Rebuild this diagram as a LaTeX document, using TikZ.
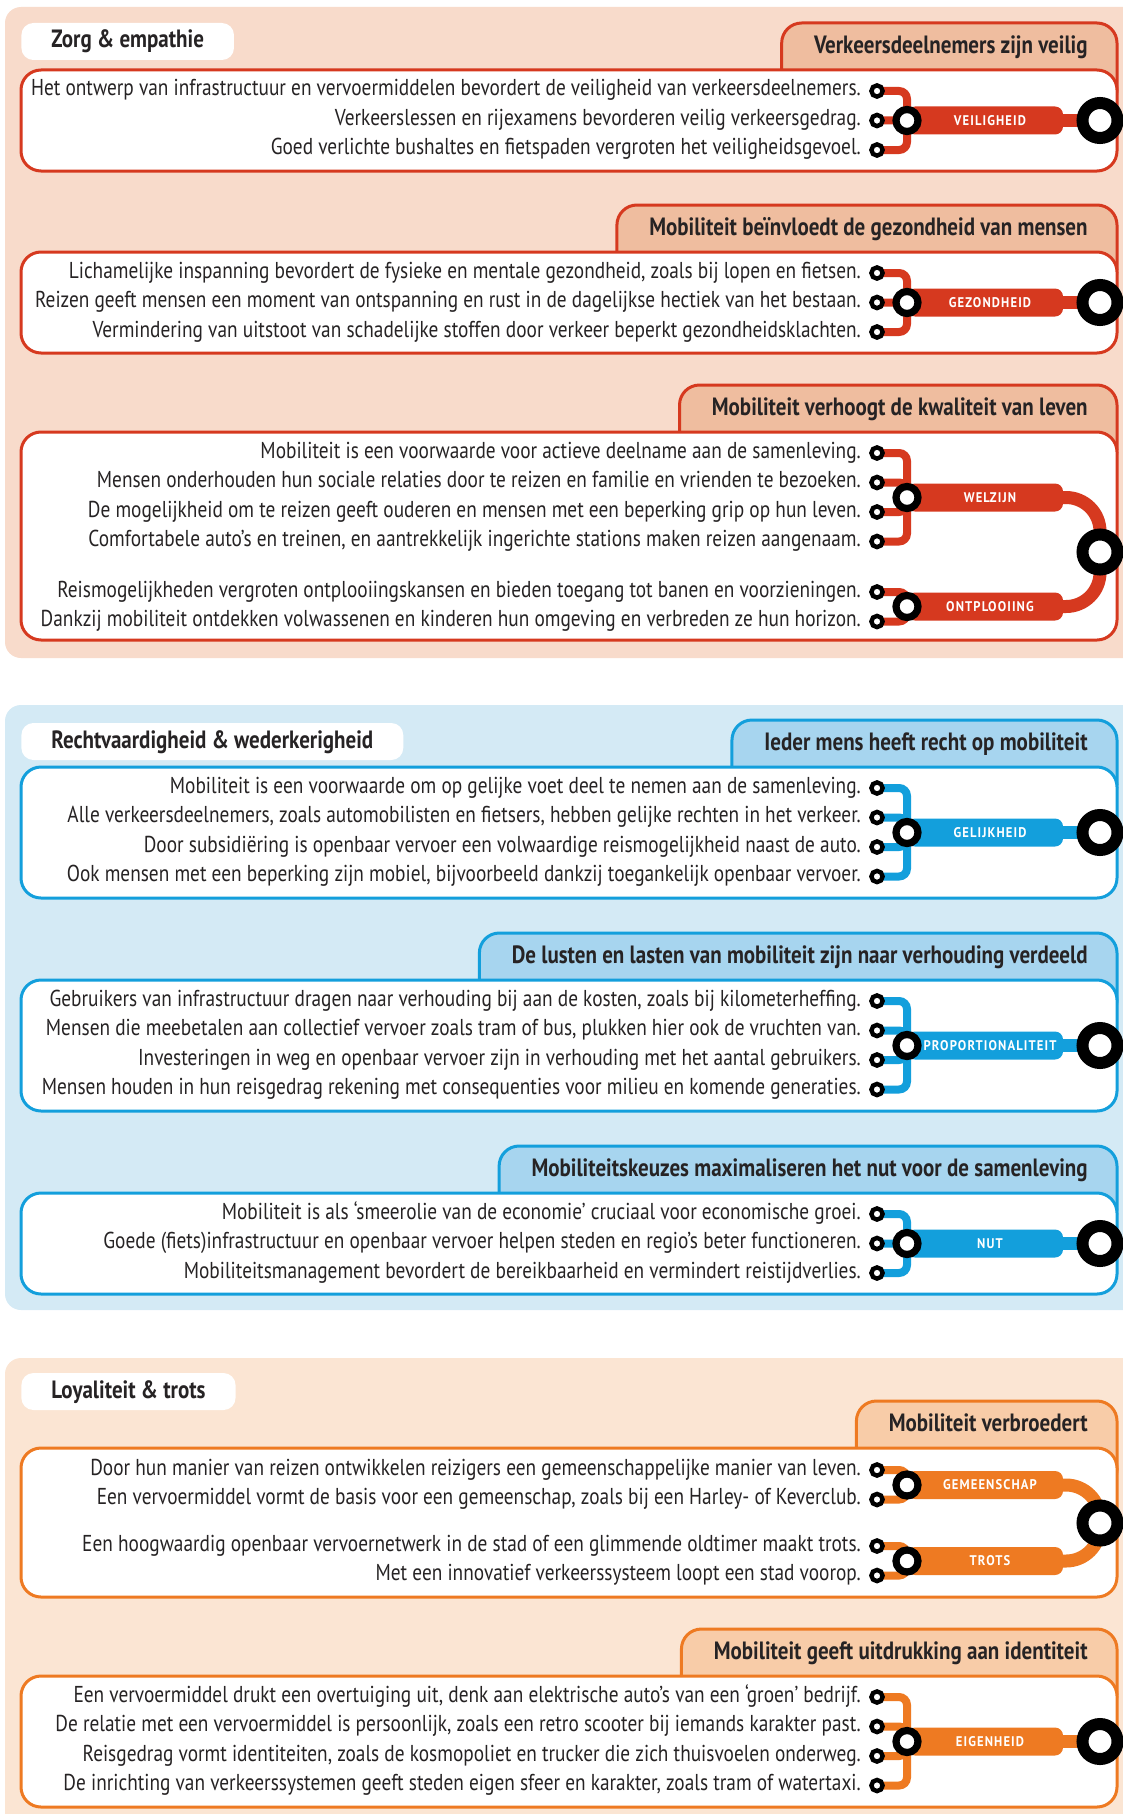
\documentclass[tikz,border=0pt]{standalone}
\usepackage{fontspec}
\setmainfont{PT Sans}[FakeStretch=0.84]
\newfontfamily\barfont{PT Sans}[FakeStretch=0.9,LetterSpace=8]
\usetikzlibrary{positioning}
\pgfdeclarelayer{bg}
\pgfdeclarelayer{lines}
\pgfsetlayers{bg,lines,main}

\definecolor{zorgbg}{HTML}{F8DBCB}
\definecolor{zorgtab}{HTML}{EFBD9F}
\definecolor{zorgline}{HTML}{D6391F}
\definecolor{rechtbg}{HTML}{D4EAF5}
\definecolor{rechttab}{HTML}{A7D5EF}
\definecolor{rechtline}{HTML}{139FDC}
\definecolor{loyaalbg}{HTML}{FBE5D3}
\definecolor{loyaaltab}{HTML}{F8CCA8}
\definecolor{loyaalline}{HTML}{EE7A22}
\definecolor{inkt}{HTML}{262324}

\begin{document}
\begin{tikzpicture}[
    x=0.5pt, y=-0.5pt,
    every node/.style={text=inkt},
    panel/.style={fill=#1, rounded corners=8pt},
    pill/.style={fill=white, rounded corners=6pt, anchor=west, minimum height=18.5pt, inner xsep=15pt, text height=9pt, text depth=2.5pt, font=\fontsize{12.5}{14}\selectfont\bfseries},
    heading/.style={anchor=east, inner sep=0pt, text height=9pt, text depth=2.5pt, font=\fontsize{12.5}{14}\selectfont\bfseries},
    tabbox/.style={draw=ln, fill=tb, line width=1.5pt, rounded corners=10pt},
    whitebox/.style={draw=ln, fill=white, line width=1.5pt, rounded corners=10pt},
    stmt/.style={inner sep=0pt, text height=8pt, text depth=3pt, font=\fontsize{11.5}{13}\selectfont},
    stopnode/.style={circle, draw=black, fill=white, line width=2.2pt, minimum size=5.6pt, inner sep=0pt},
    hub/.style={circle, draw=black, fill=white, line width=3.6pt, minimum size=11pt, inner sep=0pt},
    terminus/.style={circle, draw=black, fill=white, line width=6pt, minimum size=17.5pt, inner sep=0pt},
    linebar/.style={fill=ln, rounded corners=4pt, minimum width=78pt, minimum height=14pt, inner sep=0pt, text=white, font=\barfont\fontsize{7}{8}\selectfont\bfseries, execute at begin node={\hskip5pt\relax}},
    feeder/.style={draw=ln, line width=4pt, rounded corners=4pt},
    trunk/.style={draw=ln, line width=6.5pt, rounded corners=17pt}
    ]
\useasboundingbox (0,0) rectangle (1123,1814);
\clip (0,0) rectangle (1123,1814);

% ---------- Zorg & empathie ----------
\colorlet{ln}{zorgline}\colorlet{tb}{zorgtab}
\begin{pgfonlayer}{bg}
\fill[panel=zorgbg] (5,7) rectangle (1160,658);
\end{pgfonlayer}
\node[pill] (zorg) at (21,41.5) {Zorg \& empathie};

% veiligheid
\node[heading] (veilig) at (1088,47) {Verkeersdeelnemers zijn veilig};
\begin{pgfonlayer}{bg}
\draw[tabbox] ([xshift=-16pt,yshift=12pt]veilig.west) rectangle (1117,110);
\draw[whitebox] (21,70) rectangle (1117,171);
\end{pgfonlayer}
\node[linebar] (veiligheid) at (985,120.5) {VEILIGHEID};
\node[hub] (veiligj) at (907,120.5) {};
\node[terminus] (veilige) at (1100,120.5) {};
\begin{pgfonlayer}{lines}
\draw[trunk] (veiligheid.center) -- (veilige.center);
\end{pgfonlayer}
\foreach \txt [count=\i] in {
    {Het ontwerp van infrastructuur en vervoermiddelen bevordert de veiligheid van verkeersdeelnemers.},
    {Verkeerslessen en rijexamens bevorderen veilig verkeersgedrag.},
    {Goed verlichte bushaltes en fietspaden vergroten het veiligheidsgevoel.}} {
  \node[stopnode] (veilig\i) at (877,61.5+29.5*\i) {};
  \node[stmt, left=4pt of veilig\i] (veiligtxt\i) {\txt};
  \begin{pgfonlayer}{lines}
  \draw[feeder] (veilig\i.center) -| (veiligj.center);
  \end{pgfonlayer}
}

% gezondheid
\node[heading] (gezond) at (1088,229) {Mobiliteit beïnvloedt de gezondheid van mensen};
\begin{pgfonlayer}{bg}
\draw[tabbox] ([xshift=-16pt,yshift=12pt]gezond.west) rectangle (1117,290);
\draw[whitebox] (21,252) rectangle (1117,353);
\end{pgfonlayer}
\node[linebar] (gezondheid) at (985,302.5) {GEZONDHEID};
\node[hub] (gezondj) at (907,302.5) {};
\node[terminus] (gezonde) at (1100,302.5) {};
\begin{pgfonlayer}{lines}
\draw[trunk] (gezondheid.center) -- (gezonde.center);
\end{pgfonlayer}
\foreach \txt [count=\i] in {
    {Lichamelijke inspanning bevordert de fysieke en mentale gezondheid, zoals bij lopen en fietsen.},
    {Reizen geeft mensen een moment van ontspanning en rust in de dagelijkse hectiek van het bestaan.},
    {Vermindering van uitstoot van schadelijke stoffen door verkeer beperkt gezondheidsklachten.}} {
  \node[stopnode] (gezond\i) at (877,243.5+29.5*\i) {};
  \node[stmt, left=4pt of gezond\i] (gezondtxt\i) {\txt};
  \begin{pgfonlayer}{lines}
  \draw[feeder] (gezond\i.center) -| (gezondj.center);
  \end{pgfonlayer}
}

% welzijn en ontplooiing
\node[heading] (leven) at (1088,409) {Mobiliteit verhoogt de kwaliteit van leven};
\begin{pgfonlayer}{bg}
\draw[tabbox] ([xshift=-16pt,yshift=12pt]leven.west) rectangle (1117,470);
\draw[whitebox] (21,432) rectangle (1117,640);
\end{pgfonlayer}
\node[linebar] (welzijn) at (985,497.5) {WELZIJN};
\node[linebar] (ontplooiing) at (985,606.5) {ONTPLOOIING};
\node[hub] (welzijnj) at (907,497.5) {};
\node[hub] (ontplooiingj) at (907,606.5) {};
\node[terminus] (levene) at (1100,552) {};
\begin{pgfonlayer}{lines}
\draw[trunk] (welzijn.center) -| (levene.center);
\draw[trunk] (ontplooiing.center) -| (levene.center);
\end{pgfonlayer}
\foreach \txt [count=\i] in {
    {Mobiliteit is een voorwaarde voor actieve deelname aan de samenleving.},
    {Mensen onderhouden hun sociale relaties door te reizen en familie en vrienden te bezoeken.},
    {De mogelijkheid om te reizen geeft ouderen en mensen met een beperking grip op hun leven.},
    {Comfortabele auto’s en treinen, en aantrekkelijk ingerichte stations maken reizen aangenaam.}} {
  \node[stopnode] (welzijn\i) at (877,423.5+29.5*\i) {};
  \node[stmt, left=4pt of welzijn\i] (welzijntxt\i) {\txt};
  \begin{pgfonlayer}{lines}
  \draw[feeder] (welzijn\i.center) -| (welzijnj.center);
  \end{pgfonlayer}
}
\foreach \txt [count=\i] in {
    {Reismogelijkheden vergroten ontplooiingskansen en bieden toegang tot banen en voorzieningen.},
    {Dankzij mobiliteit ontdekken volwassenen en kinderen hun omgeving en verbreden ze hun horizon.}} {
  \node[stopnode] (ontplooiing\i) at (877,562.5+29.5*\i) {};
  \node[stmt, left=4pt of ontplooiing\i] (ontplooiingtxt\i) {\txt};
  \begin{pgfonlayer}{lines}
  \draw[feeder] (ontplooiing\i.center) -| (ontplooiingj.center);
  \end{pgfonlayer}
}

% ---------- Rechtvaardigheid & wederkerigheid ----------
\colorlet{ln}{rechtline}\colorlet{tb}{rechttab}
\begin{pgfonlayer}{bg}
\fill[panel=rechtbg] (5,705) rectangle (1160,1310);
\end{pgfonlayer}
\node[pill] (recht) at (21,741.5) {Rechtvaardigheid \& wederkerigheid};

% gelijkheid
\node[heading] (ieder) at (1088,744) {Ieder mens heeft recht op mobiliteit};
\begin{pgfonlayer}{bg}
\draw[tabbox] ([xshift=-16pt,yshift=12pt]ieder.west) rectangle (1117,805);
\draw[whitebox] (21,767) rectangle (1117,898);
\end{pgfonlayer}
\node[linebar] (gelijkheid) at (985,832.5) {GELIJKHEID};
\node[hub] (gelijkj) at (907,832.5) {};
\node[terminus] (gelijke) at (1100,832.5) {};
\begin{pgfonlayer}{lines}
\draw[trunk] (gelijkheid.center) -- (gelijke.center);
\end{pgfonlayer}
\foreach \txt [count=\i] in {
    {Mobiliteit is een voorwaarde om op gelijke voet deel te nemen aan de samenleving.},
    {Alle verkeersdeelnemers, zoals automobilisten en fietsers, hebben gelijke rechten in het verkeer.},
    {Door subsidiëring is openbaar vervoer een volwaardige reismogelijkheid naast de auto.},
    {Ook mensen met een beperking zijn mobiel, bijvoorbeeld dankzij toegankelijk openbaar vervoer.}} {
  \node[stopnode] (gelijk\i) at (877,758.5+29.5*\i) {};
  \node[stmt, left=4pt of gelijk\i] (gelijktxt\i) {\txt};
  \begin{pgfonlayer}{lines}
  \draw[feeder] (gelijk\i.center) -| (gelijkj.center);
  \end{pgfonlayer}
}

% proportionaliteit
\node[heading] (lusten) at (1088,957) {De lusten en lasten van mobiliteit zijn naar verhouding verdeeld};
\begin{pgfonlayer}{bg}
\draw[tabbox] ([xshift=-16pt,yshift=12pt]lusten.west) rectangle (1117,1020);
\draw[whitebox] (21,980) rectangle (1117,1111);
\end{pgfonlayer}
\node[linebar] (proportionaliteit) at (985,1045.5) {PROPORTIONALITEIT};
\node[hub] (proportj) at (907,1045.5) {};
\node[terminus] (proporte) at (1100,1045.5) {};
\begin{pgfonlayer}{lines}
\draw[trunk] (proportionaliteit.center) -- (proporte.center);
\end{pgfonlayer}
\foreach \txt [count=\i] in {
    {Gebruikers van infrastructuur dragen naar verhouding bij aan de kosten, zoals bij kilometerheffing.},
    {Mensen die meebetalen aan collectief vervoer zoals tram of bus, plukken hier ook de vruchten van.},
    {Investeringen in weg en openbaar vervoer zijn in verhouding met het aantal gebruikers.},
    {Mensen houden in hun reisgedrag rekening met consequenties voor milieu en komende generaties.}} {
  \node[stopnode] (proport\i) at (877,971.5+29.5*\i) {};
  \node[stmt, left=4pt of proport\i] (proporttxt\i) {\txt};
  \begin{pgfonlayer}{lines}
  \draw[feeder] (proport\i.center) -| (proportj.center);
  \end{pgfonlayer}
}

% nut
\node[heading] (keuzes) at (1088,1170) {Mobiliteitskeuzes maximaliseren het nut voor de samenleving};
\begin{pgfonlayer}{bg}
\draw[tabbox] ([xshift=-16pt,yshift=12pt]keuzes.west) rectangle (1117,1230);
\draw[whitebox] (21,1193) rectangle (1117,1294);
\end{pgfonlayer}
\node[linebar] (nut) at (985,1243.5) {NUT};
\node[hub] (nutj) at (907,1243.5) {};
\node[terminus] (nute) at (1100,1243.5) {};
\begin{pgfonlayer}{lines}
\draw[trunk] (nut.center) -- (nute.center);
\end{pgfonlayer}
\foreach \txt [count=\i] in {
    {Mobiliteit is als ‘smeerolie van de economie’ cruciaal voor economische groei.},
    {Goede (fiets)infrastructuur en openbaar vervoer helpen steden en regio’s beter functioneren.},
    {Mobiliteitsmanagement bevordert de bereikbaarheid en vermindert reistijdverlies.}} {
  \node[stopnode] (nut\i) at (877,1184.5+29.5*\i) {};
  \node[stmt, left=4pt of nut\i] (nuttxt\i) {\txt};
  \begin{pgfonlayer}{lines}
  \draw[feeder] (nut\i.center) -| (nutj.center);
  \end{pgfonlayer}
}

% ---------- Loyaliteit & trots ----------
\colorlet{ln}{loyaalline}\colorlet{tb}{loyaaltab}
\begin{pgfonlayer}{bg}
\fill[panel=loyaalbg] (5,1358) rectangle (1160,1860);
\end{pgfonlayer}
\node[pill] (loyaal) at (21,1391.5) {Loyaliteit \& trots};

% gemeenschap en trots
\node[heading] (broeder) at (1088,1425) {Mobiliteit verbroedert};
\begin{pgfonlayer}{bg}
\draw[tabbox] ([xshift=-16pt,yshift=12pt]broeder.west) rectangle (1117,1490);
\draw[whitebox] (21,1448) rectangle (1117,1597);
\end{pgfonlayer}
\node[linebar] (gemeenschap) at (985,1485) {GEMEENSCHAP};
\node[linebar] (trots) at (985,1561) {TROTS};
\node[hub] (gemeenschapj) at (907,1485) {};
\node[hub] (trotsj) at (907,1561) {};
\node[terminus] (broedere) at (1100,1523) {};
\begin{pgfonlayer}{lines}
\draw[trunk] (gemeenschap.center) -| (broedere.center);
\draw[trunk] (trots.center) -| (broedere.center);
\end{pgfonlayer}
\foreach \txt [count=\i] in {
    {Door hun manier van reizen ontwikkelen reizigers een gemeenschappelijke manier van leven.},
    {Een vervoermiddel vormt de basis voor een gemeenschap, zoals bij een Harley- of Keverclub.}} {
  \node[stopnode] (gemeenschap\i) at (877,1440.5+29.5*\i) {};
  \node[stmt, left=4pt of gemeenschap\i] (gemeenschaptxt\i) {\txt};
  \begin{pgfonlayer}{lines}
  \draw[feeder] (gemeenschap\i.center) -| (gemeenschapj.center);
  \end{pgfonlayer}
}
\foreach \txt [count=\i] in {
    {Een hoogwaardig openbaar vervoernetwerk in de stad of een glimmende oldtimer maakt trots.},
    {Met een innovatief verkeerssysteem loopt een stad voorop.}} {
  \node[stopnode] (trots\i) at (877,1516.5+29.5*\i) {};
  \node[stmt, left=4pt of trots\i] (trotstxt\i) {\txt};
  \begin{pgfonlayer}{lines}
  \draw[feeder] (trots\i.center) -| (trotsj.center);
  \end{pgfonlayer}
}

% eigenheid
\node[heading] (identiteit) at (1088,1653) {Mobiliteit geeft uitdrukking aan identiteit};
\begin{pgfonlayer}{bg}
\draw[tabbox] ([xshift=-16pt,yshift=12pt]identiteit.west) rectangle (1117,1715);
\draw[whitebox] (21,1676) rectangle (1117,1807);
\end{pgfonlayer}
\node[linebar] (eigenheid) at (985,1741.5) {EIGENHEID};
\node[hub] (eigenj) at (907,1741.5) {};
\node[terminus] (eigene) at (1100,1741.5) {};
\begin{pgfonlayer}{lines}
\draw[trunk] (eigenheid.center) -- (eigene.center);
\end{pgfonlayer}
\foreach \txt [count=\i] in {
    {Een vervoermiddel drukt een overtuiging uit, denk aan elektrische auto’s van een ‘groen’ bedrijf.},
    {De relatie met een vervoermiddel is persoonlijk, zoals een retro scooter bij iemands karakter past.},
    {Reisgedrag vormt identiteiten, zoals de kosmopoliet en trucker die zich thuisvoelen onderweg.},
    {De inrichting van verkeerssystemen geeft steden eigen sfeer en karakter, zoals tram of watertaxi.}} {
  \node[stopnode] (eigen\i) at (877,1667.5+29.5*\i) {};
  \node[stmt, left=4pt of eigen\i] (eigentxt\i) {\txt};
  \begin{pgfonlayer}{lines}
  \draw[feeder] (eigen\i.center) -| (eigenj.center);
  \end{pgfonlayer}
}
\end{tikzpicture}
\end{document}
